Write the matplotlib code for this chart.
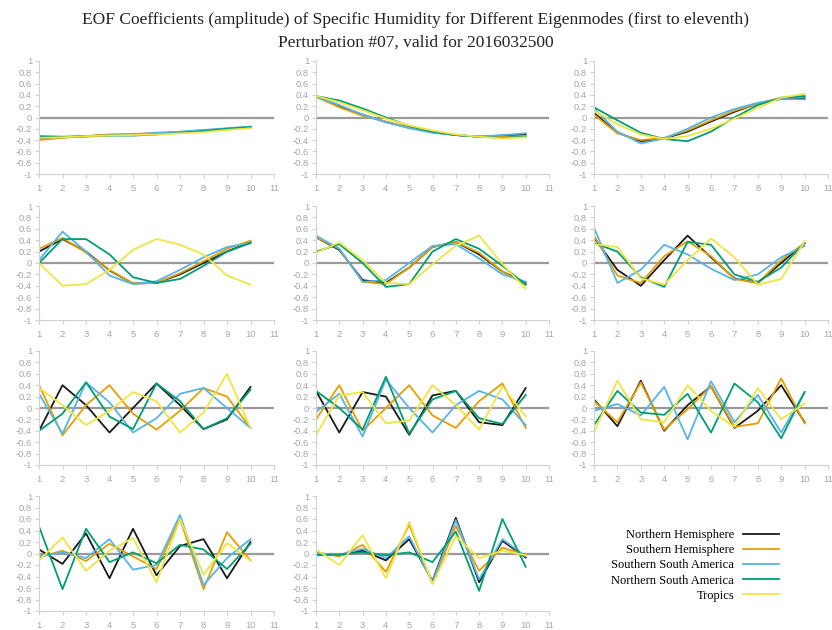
import numpy as np
import matplotlib.pyplot as plt

# EOF amplitudes for modes 1..11, x = ensemble index 1..10
x = np.arange(1, 11)

series_names = ['Northern Hemisphere', 'Southern Hemisphere', 'Southern South America',
                'Northern South America', 'Tropics']
series_colors = ['#1a1a1a', '#E69F00', '#56B4E9', '#009E73', '#F0E442']

nh = [
    [-0.38, -0.35, -0.33, -0.31, -0.30, -0.28, -0.26, -0.23, -0.20, -0.17],
    [0.37, 0.20, 0.05, -0.08, -0.18, -0.26, -0.31, -0.34, -0.32, -0.30],
    [0.08, -0.27, -0.42, -0.37, -0.25, -0.07, 0.10, 0.25, 0.33, 0.34],
    [0.20, 0.42, 0.20, -0.13, -0.36, -0.35, -0.20, 0.00, 0.20, 0.37],
    [0.45, 0.23, -0.30, -0.35, -0.08, 0.28, 0.37, 0.15, -0.15, -0.35],
    [0.45, -0.12, -0.40, 0.05, 0.48, 0.10, -0.27, -0.35, 0.00, 0.35],
    [-0.40, 0.40, 0.05, -0.43, 0.00, 0.43, 0.05, -0.37, -0.20, 0.37],
    [0.30, -0.43, 0.28, 0.20, -0.47, 0.22, 0.30, -0.25, -0.30, 0.35],
    [0.15, -0.32, 0.48, -0.40, 0.05, 0.38, -0.35, -0.05, 0.40, -0.25],
    [0.07, -0.18, 0.35, -0.43, 0.43, -0.38, 0.13, 0.25, -0.43, 0.20],
    [0.00, -0.03, 0.05, -0.12, 0.25, -0.48, 0.62, -0.50, 0.22, -0.07],
]
sh = [
    [-0.40, -0.36, -0.33, -0.30, -0.29, -0.28, -0.26, -0.24, -0.21, -0.18],
    [0.37, 0.18, 0.03, -0.07, -0.18, -0.26, -0.31, -0.34, -0.34, -0.33],
    [0.05, -0.28, -0.40, -0.36, -0.23, -0.05, 0.12, 0.25, 0.35, 0.37],
    [0.25, 0.44, 0.18, -0.12, -0.36, -0.35, -0.18, 0.03, 0.25, 0.39],
    [0.45, 0.25, -0.33, -0.37, -0.08, 0.28, 0.37, 0.18, -0.15, -0.38],
    [0.48, -0.22, -0.35, 0.12, 0.38, 0.12, -0.28, -0.35, 0.05, 0.35],
    [0.40, -0.48, 0.05, 0.40, -0.10, -0.38, -0.05, 0.35, 0.20, -0.35],
    [-0.20, 0.40, -0.40, 0.00, 0.40, -0.13, -0.35, 0.12, 0.43, -0.35],
    [0.12, -0.25, 0.45, -0.38, -0.02, 0.38, -0.33, -0.27, 0.52, -0.27],
    [-0.07, 0.05, -0.13, 0.17, -0.05, -0.27, 0.60, -0.62, 0.37, -0.12],
    [0.02, -0.05, 0.15, -0.32, 0.50, -0.52, 0.48, -0.30, 0.10, -0.02],
]
ssa = [
    [-0.35, -0.35, -0.34, -0.32, -0.30, -0.27, -0.25, -0.22, -0.19, -0.16],
    [0.37, 0.22, 0.05, -0.08, -0.19, -0.27, -0.31, -0.34, -0.31, -0.28],
    [0.15, -0.25, -0.46, -0.37, -0.20, 0.00, 0.15, 0.26, 0.33, 0.32],
    [0.05, 0.55, 0.20, -0.22, -0.37, -0.32, -0.12, 0.10, 0.28, 0.35],
    [0.48, 0.25, -0.33, -0.30, 0.00, 0.30, 0.33, 0.08, -0.20, -0.33],
    [0.62, -0.35, -0.12, 0.32, 0.15, -0.10, -0.30, -0.20, 0.10, 0.30],
    [0.25, -0.45, 0.45, 0.10, -0.43, -0.18, 0.25, 0.35, 0.00, -0.35],
    [-0.07, 0.25, -0.50, 0.50, 0.00, -0.43, 0.05, 0.30, 0.15, -0.30],
    [-0.05, 0.07, -0.13, 0.37, -0.55, 0.47, -0.25, 0.23, -0.43, 0.28],
    [-0.05, 0.02, -0.08, 0.25, -0.28, -0.20, 0.67, -0.55, -0.08, 0.25],
    [0.00, -0.02, 0.08, -0.08, 0.30, -0.50, 0.58, -0.45, 0.25, -0.05],
]
nsa = [
    [-0.33, -0.34, -0.33, -0.32, -0.32, -0.30, -0.27, -0.24, -0.20, -0.17],
    [0.38, 0.30, 0.16, 0.00, -0.15, -0.25, -0.31, -0.34, -0.36, -0.34],
    [0.18, -0.05, -0.27, -0.38, -0.42, -0.25, 0.00, 0.22, 0.35, 0.38],
    [0.00, 0.42, 0.42, 0.15, -0.25, -0.35, -0.28, -0.05, 0.20, 0.35],
    [0.20, 0.33, 0.00, -0.42, -0.37, 0.20, 0.42, 0.25, -0.05, -0.38],
    [0.35, 0.20, -0.25, -0.42, 0.37, 0.32, -0.20, -0.33, -0.08, 0.35],
    [-0.40, -0.10, 0.45, -0.15, -0.37, 0.43, 0.12, -0.37, -0.18, 0.32],
    [0.30, 0.00, -0.38, 0.55, -0.45, 0.15, 0.30, -0.18, -0.28, 0.23],
    [-0.30, 0.30, -0.08, -0.12, 0.25, -0.43, 0.43, 0.10, -0.53, 0.28],
    [0.47, -0.62, 0.43, -0.15, 0.02, -0.17, 0.15, 0.07, -0.27, 0.17],
    [-0.03, -0.02, 0.02, -0.03, 0.02, -0.15, 0.38, -0.65, 0.60, -0.23],
]
tropics = [
    [-0.36, -0.35, -0.33, -0.32, -0.31, -0.30, -0.28, -0.26, -0.22, -0.19],
    [0.38, 0.27, 0.13, -0.02, -0.14, -0.23, -0.30, -0.34, -0.37, -0.35],
    [0.12, -0.12, -0.30, -0.38, -0.33, -0.20, -0.02, 0.17, 0.35, 0.42],
    [0.00, -0.40, -0.37, -0.12, 0.23, 0.42, 0.32, 0.15, -0.22, -0.38],
    [0.18, 0.36, 0.05, -0.35, -0.37, -0.02, 0.30, 0.48, -0.02, -0.45],
    [0.33, 0.28, -0.27, -0.38, 0.05, 0.43, 0.10, -0.38, -0.28, 0.38],
    [0.35, 0.05, -0.30, -0.05, 0.28, 0.12, -0.43, -0.08, 0.60, -0.35],
    [-0.47, 0.22, 0.28, -0.27, -0.22, 0.40, 0.05, -0.38, 0.38, -0.15],
    [-0.43, 0.48, -0.20, -0.25, 0.40, -0.05, -0.33, 0.35, -0.20, 0.08],
    [-0.12, 0.28, -0.30, 0.05, 0.27, -0.50, 0.60, -0.37, 0.18, -0.12],
    [0.07, -0.20, 0.32, -0.43, 0.55, -0.53, 0.30, -0.08, 0.05, -0.03],
]
all_series = [nh, sh, ssa, nsa, tropics]

x_ticks = list(range(1, 12))
y_ticks = np.round(np.arange(-1, 1.01, 0.2), 1)
y_labels = ['-1', '-0.8', '-0.6', '-0.4', '-0.2', '0', '0.2', '0.4', '0.6', '0.8', '1']

fig = plt.figure(figsize=(8.32, 6.30), dpi=100)

# panel grid in pixel coordinates (left, right) and (top, bottom)
W, H = 832.0, 630.0
cols = [(39, 274), (316, 549), (594, 828)]
rows = [(61, 174), (206, 320), (351, 465), (496, 611)]

tick_grey = '#a6a6a6'
handles = []
for k in range(11):
    r, c = divmod(k, 3)
    l, rr = cols[c]
    t, b = rows[r]
    ax = fig.add_axes([l / W, 1 - b / H, (rr - l) / W, (b - t) / H])
    ax.axhline(0, color='#9a9a9a', lw=1.6, zorder=1)
    for s, name, col in zip(all_series, series_names, series_colors):
        ln, = ax.plot(x, s[k], color=col, lw=1.3, label=name, zorder=2)
        if k == 0:
            handles.append(ln)
    ax.set_xlim(1, 11)
    ax.set_ylim(-1, 1)
    ax.set_xticks(x_ticks)
    ax.set_yticks(y_ticks)
    ax.set_yticklabels(y_labels)
    for side in ['top', 'right']:
        ax.spines[side].set_visible(False)
    for side in ['left', 'bottom']:
        ax.spines[side].set_color('#d0d0d0')
        ax.spines[side].set_linewidth(0.8)
    ax.tick_params(axis='both', labelsize=6.8, labelcolor=tick_grey, color='#d0d0d0',
                   length=3, width=0.8, pad=2)
    ax.tick_params(axis='x', pad=4)
    for lab in ax.get_xticklabels() + ax.get_yticklabels():
        lab.set_family('Liberation Sans')

# legend sits in the empty 12th slot
leg = fig.legend(handles, series_names, loc='upper left',
                 bbox_to_anchor=(600 / W, 1 - 518 / H), frameon=False,
                 markerfirst=False, handlelength=2.9, handletextpad=0.7,
                 labelspacing=0.25, prop={'family': 'Liberation Serif', 'size': 9})
for txt in leg.get_texts():
    txt.set_ha('right')
leg._legend_box.align = 'right'

fig.text(0.5, 1 - 20 / H,
         'EOF Coefficients (amplitude) of Specific Humidity for Different Eigenmodes (first to eleventh)',
         ha='center', va='center', family='Liberation Serif', fontsize=12.5, color='#222222')
fig.text(0.5, 1 - 43 / H, 'Perturbation #07, valid for 2016032500',
         ha='center', va='center', family='Liberation Serif', fontsize=12.5, color='#222222')

plt.savefig('out.png', dpi=100)
plt.close()
